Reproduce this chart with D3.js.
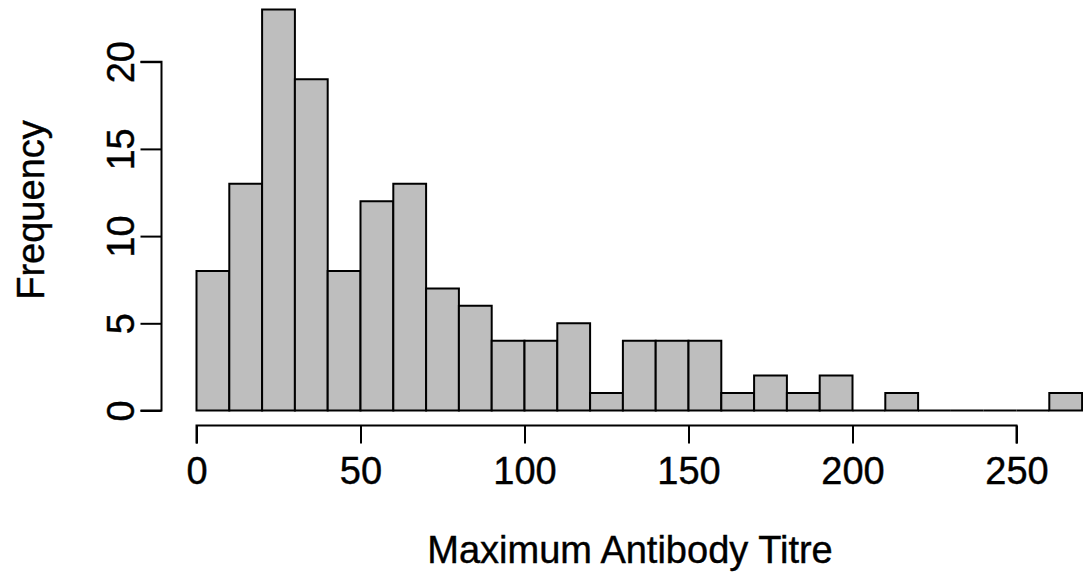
<!DOCTYPE html>
<html lang="en">
<head>
<meta charset="utf-8">
<title>Maximum Antibody Titre</title>
<script src="https://d3js.org/d3.v7.min.js"></script>
<style>
  body { margin: 0; background: #fff; }
  text { font-family: "Liberation Sans", Arial, sans-serif; fill: #000; stroke: #000; stroke-width: 0.4px; }
  .bar { fill: #bebebe; stroke: #000; stroke-width: 2; }
  .axis path, .axis line { stroke: #000; stroke-width: 2; }
</style>
</head>
<body>
<svg id="chart" width="1083" height="573"></svg>
<script>
// Bin edges (width 10) and counts
var binStarts = [0, 10, 20, 30, 40, 50, 60, 70, 80, 90, 100, 110, 120, 130,
                 140, 150, 160, 170, 180, 190, 200, 210, 220, 230, 240, 250, 260];
var counts = [8, 13, 23, 19, 8, 12, 13, 7, 6, 4, 4, 5, 1, 4,
              4, 4, 1, 2, 1, 2, 0, 1, 0, 0, 0, 0, 1];
var binWidth = 10;
var xTicks = [0, 50, 100, 150, 200, 250];
var yTicks = [0, 5, 10, 15, 20];

var svg = d3.select("#chart");

// scales
var x = d3.scaleLinear().domain([0, 250]).range([196.5, 1016.5]);
var y = d3.scaleLinear().domain([0, 20]).range([410.5, 61.7]);

var data = binStarts.map(function(s, i) { return {x0: s, x1: s + binWidth, n: counts[i]}; });

// bars drawn as closed paths so empty bins still show the base line
svg.selectAll(".bar")
    .data(data)
  .enter().append("path")
    .attr("class", "bar")
    .attr("d", function(d) {
      var p = d3.path();
      p.rect(x(d.x0), y(d.n), x(d.x1) - x(d.x0), y(0) - y(d.n));
      return p.toString();
    });

// x axis
var xAxis = d3.axisBottom(x).tickValues(xTicks).tickSize(18).tickPadding(14);
var gx = svg.append("g")
    .attr("class", "axis")
    .attr("transform", "translate(0,425.5)")
    .call(xAxis);
gx.select(".domain").attr("d", "M" + x(0) + ",18V0H" + x(250) + "V18");
gx.selectAll("text").style("font-size", "38px").attr("dy", "0.71em");

// y axis
var yAxis = d3.axisLeft(y).tickValues(yTicks).tickSize(21).tickPadding(0);
var gy = svg.append("g")
    .attr("class", "axis")
    .attr("transform", "translate(161.5,0)")
    .call(yAxis);
gy.select(".domain").attr("d", "M-21," + y(20) + "H0V" + y(0) + "H-21");
gy.selectAll(".tick text")
    .style("font-size", "38px")
    .attr("x", null)
    .attr("text-anchor", "middle")
    .attr("transform", "translate(-41,0) rotate(-90)")
    .attr("y", 0)
    .attr("dy", "0.35em");

// axis titles
svg.append("text")
    .attr("x", 630)
    .attr("y", 563)
    .attr("text-anchor", "middle")
    .style("font-size", "38px")
    .text("Maximum Antibody Titre");

svg.append("text")
    .attr("transform", "translate(44,210) rotate(-90)")
    .attr("text-anchor", "middle")
    .style("font-size", "38px")
    .text("Frequency");
</script>
</body>
</html>
